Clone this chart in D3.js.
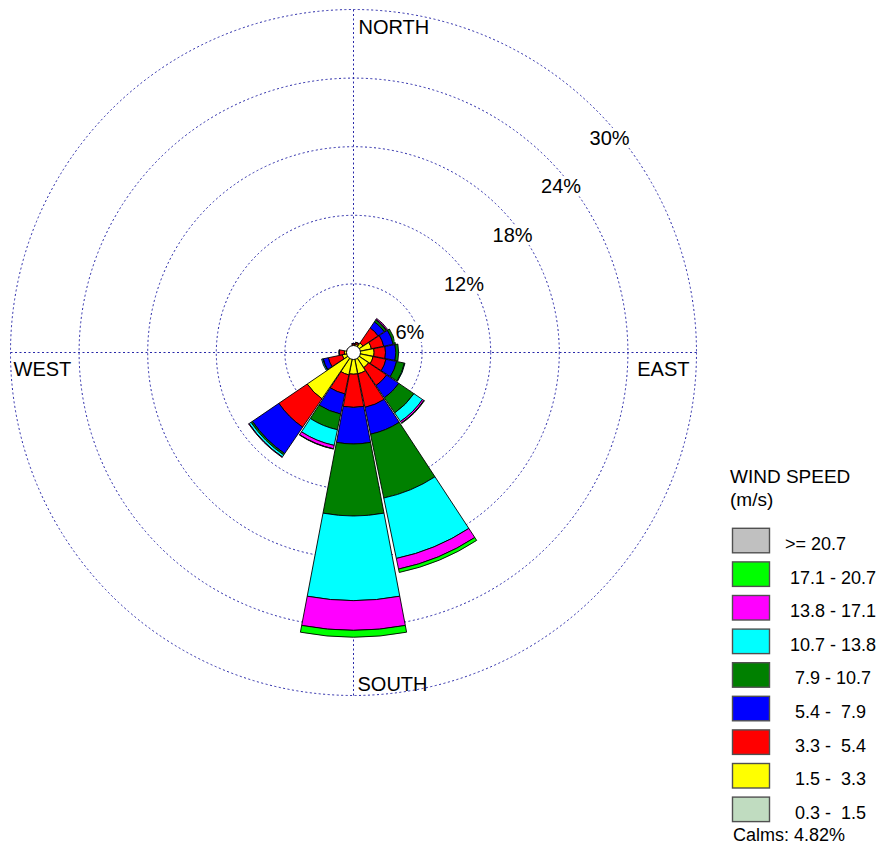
<!DOCTYPE html>
<html>
<head>
<meta charset="utf-8">
<script src="https://cdn.jsdelivr.net/npm/d3@7"></script>
<style>
  html, body { margin: 0; padding: 0; background: #fff; }
  svg { display: block; font-family: "Liberation Sans", Arial, Helvetica, sans-serif; }
  text { white-space: pre; }
</style>
</head>
<body>
<svg id="chart" width="884" height="862"></svg>
<script>
// Wind directions (16 sectors, clockwise from north)
const directions = ["N", "NNE", "NE", "ENE", "E", "ESE", "SE", "SSE",
                    "S", "SSW", "SW", "WSW", "W", "WNW", "NW", "NNW"];

// Frequency (%) of each wind-speed class per direction
const speed03to15  = [0.20, 0.20, 0.25, 0.30, 0.30, 0.30, 0.30, 0.30, 0.30, 0.30, 0.40, 0.25, 0.25, 0.20, 0.20, 0.20];
const speed15to33  = [0.35, 0.55, 0.75, 1.30, 1.50, 1.45, 1.30, 1.60, 1.60, 1.70, 4.50, 0.75, 0.55, 0.35, 0.30, 0.30];
const speed33to54  = [0.20, 0.15, 1.60, 1.10, 1.00, 1.15, 1.90, 3.00, 2.90, 1.70, 3.00, 1.25, 0.45, 0.05, 0.05, 0.05];
const speed54to79  = [0.05, 0.02, 0.65, 0.85, 0.90, 0.95, 1.30, 2.40, 3.20, 1.80, 2.80, 0.45, 0.03, 0.00, 0.00, 0.00];
const speed79to107 = [0.00, 0.00, 0.20, 0.20, 0.25, 0.70, 1.60, 5.70, 6.30, 1.40, 0.15, 0.05, 0.00, 0.00, 0.00, 0.00];
const speed107to138= [0.00, 0.00, 0.05, 0.00, 0.00, 0.05, 0.90, 5.40, 7.40, 1.40, 0.20, 0.10, 0.00, 0.00, 0.00, 0.00];
const speed138to171= [0.00, 0.00, 0.10, 0.00, 0.00, 0.00, 0.15, 0.95, 2.60, 0.30, 0.05, 0.00, 0.00, 0.00, 0.00, 0.00];
const speed171to207= [0.00, 0.00, 0.00, 0.00, 0.00, 0.00, 0.05, 0.30, 0.60, 0.03, 0.00, 0.00, 0.00, 0.00, 0.00, 0.00];
const speed207up   = [0.00, 0.00, 0.00, 0.00, 0.00, 0.00, 0.00, 0.00, 0.00, 0.00, 0.00, 0.00, 0.00, 0.00, 0.00, 0.00];

// Speed classes from the centre outwards
const speedSeries = [speed03to15, speed15to33, speed33to54, speed54to79, speed79to107,
                     speed107to138, speed138to171, speed171to207, speed207up];
const speedLabels = [" 0.3 -  1.5", " 1.5 -  3.3", " 3.3 -  5.4", " 5.4 -  7.9", " 7.9 - 10.7",
                     "10.7 - 13.8", "13.8 - 17.1", "17.1 - 20.7", ">= 20.7"];
const speedColors = ["#c0dcc0", "#ffff00", "#ff0000", "#0000ff", "#008000",
                     "#00ffff", "#ff00ff", "#00ff00", "#c0c0c0"];

const ringTicks = [6, 12, 18, 24, 30];
const compassLabels = ["NORTH", "EAST", "SOUTH", "WEST"];
const calmsPercent = 4.82;

// ---- layout ----
const svg = d3.select("#chart");
const cx = 353.5, cy = 352.5, R = 343;
const r = d3.scaleLinear().domain([0, 30]).range([0, R]);
const sectorWidth = 21.5; // degrees drawn per 22.5° sector
const toRad = d => d * Math.PI / 180;
const gridColor = "#2828a8";

const g = svg.append("g").attr("transform", `translate(${cx},${cy})`);

// Range rings
g.append("g").selectAll("circle").data(ringTicks).join("circle")
  .attr("r", d => r(d))
  .attr("fill", "none")
  .attr("stroke", gridColor)
  .attr("stroke-width", 1)
  .attr("stroke-dasharray", "2,2.5");

// Cross hairs
g.append("line").attr("x1", -R).attr("x2", R).attr("y1", 0).attr("y2", 0)
  .attr("stroke", gridColor).attr("stroke-dasharray", "2,2.5");
g.append("line").attr("y1", -R).attr("y2", R).attr("x1", 0).attr("x2", 0)
  .attr("stroke", gridColor).attr("stroke-dasharray", "2,2.5");

// Stacked petals
const segments = [];
directions.forEach((dir, i) => {
  const angle = i * 22.5;
  let acc = 0;
  speedSeries.forEach((series, k) => {
    const v = series[i];
    if (v > 0) {
      segments.push({ dir, angle, inner: acc, outer: acc + v, color: speedColors[k] });
    }
    acc += v;
  });
});

const arc = d3.arc()
  .innerRadius(d => r(d.inner))
  .outerRadius(d => r(d.outer))
  .startAngle(d => toRad(d.angle - sectorWidth / 2))
  .endAngle(d => toRad(d.angle + sectorWidth / 2));

g.append("g").selectAll("path").data(segments).join("path")
  .attr("d", arc)
  .attr("fill", d => d.color)
  .attr("stroke", "#000")
  .attr("stroke-width", 0.9)
  .attr("stroke-linejoin", "miter");

// Calms circle
g.append("circle").attr("r", 7).attr("fill", "#fff")
  .attr("stroke", "#000").attr("stroke-width", 1);

// Ring labels on the NE diagonal, with white backing
const ringLabelG = g.append("g");
ringTicks.forEach(t => {
  const p = r(t) * Math.SQRT1_2;
  const grp = ringLabelG.append("g");
  const txt = grp.append("text")
    .attr("x", p - 6.5)
    .attr("y", -p + 35)
    .attr("font-size", 20)
    .attr("fill", "#000")
    .text(`${t}%`);
  const bb = txt.node().getBBox();
  grp.insert("rect", "text")
    .attr("x", bb.x - 1).attr("y", bb.y + 1)
    .attr("width", bb.width + 2).attr("height", bb.height - 2)
    .attr("fill", "#fff");
});

// Compass labels
const compassPos = {
  NORTH: { x: 5, y: -R + 24, anchor: "start" },
  EAST:  { x: R - 7, y: 23, anchor: "end" },
  SOUTH: { x: 4, y: R - 5, anchor: "start" },
  WEST:  { x: -R + 3, y: 23, anchor: "start" }
};
compassLabels.forEach(lbl => {
  const p = compassPos[lbl];
  g.append("text")
    .attr("x", p.x).attr("y", p.y)
    .attr("text-anchor", p.anchor)
    .attr("font-size", 20)
    .attr("fill", "#000")
    .text(lbl);
});

// Legend
const legend = svg.append("g").attr("transform", "translate(730,0)");
legend.append("text").attr("x", 0).attr("y", 483).attr("font-size", 19).text("WIND SPEED");
legend.append("text").attr("x", 0).attr("y", 506).attr("font-size", 19).text("(m/s)");

const legendOrder = d3.range(speedLabels.length).reverse();
const ly = d3.scaleLinear().domain([0, 1]).range([528.3, 561.9]);
legendOrder.forEach((k, row) => {
  const y0 = ly(row);
  legend.append("rect")
    .attr("x", 2.5).attr("y", y0)
    .attr("width", 37).attr("height", 24.5)
    .attr("fill", speedColors[k])
    .attr("stroke", "#505050")
    .attr("stroke-width", 1.4);
  legend.append("text")
    .attr("x", k === speedLabels.length - 1 ? 55 : 60)
    .attr("y", y0 + 21.7)
    .attr("font-size", 18)
    .text(speedLabels[k]);
});

legend.append("text").attr("x", 3).attr("y", 841).attr("font-size", 18)
  .text(`Calms: ${calmsPercent.toFixed(2)}%`);
</script>
</body>
</html>
